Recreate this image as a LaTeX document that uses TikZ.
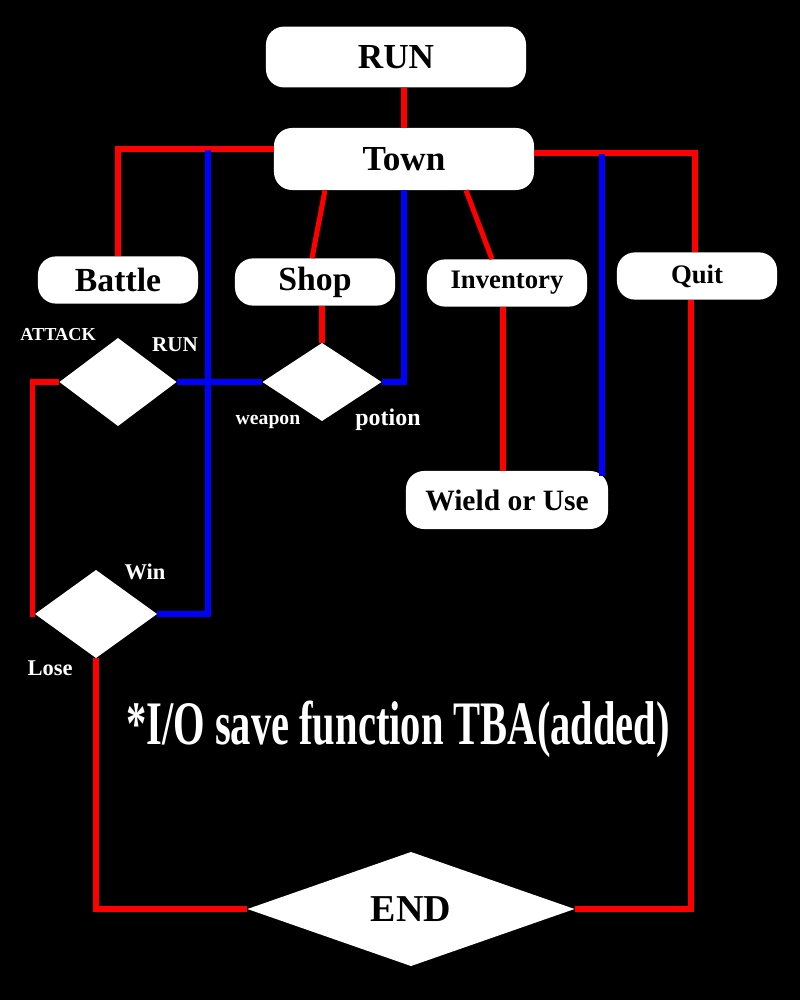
\documentclass[tikz,border=0pt]{standalone}
\usepackage{fontspec}
\setmainfont{Liberation Serif}
\newfontfamily\notefont[FakeStretch=0.655]{Liberation Serif}
\usetikzlibrary{shapes.geometric, calc}

\begin{document}
\begin{tikzpicture}[x=0.025cm, y=-0.025cm,
    box/.style={fill=white, rounded corners=0.45cm, inner sep=0pt, font=\bfseries},
    choice/.style={diamond, fill=white, inner sep=0pt, outer sep=0pt},
    redline/.style={red, line width=3.6pt},
    blueline/.style={blue, line width=3.6pt},
    lbl/.style={white, font=\bfseries}
  ]
  % background
  \fill[black] (0,0) rectangle (800,1000);

  % boxes
  \node[box, minimum width=6.5cm, minimum height=1.52cm, font=\bfseries\fontsize{25}{27}\selectfont] (run) at (396,57) {RUN};
  \node[box, minimum width=6.5cm, minimum height=1.55cm, font=\bfseries\fontsize{25}{27}\selectfont] (town) at (404,159) {Town};
  \node[box, minimum width=4cm, minimum height=1.18cm, font=\bfseries\fontsize{24}{26}\selectfont] (battle) at (118,280) {Battle};
  \node[box, minimum width=4cm, minimum height=1.18cm, font=\bfseries\fontsize{24}{26}\selectfont] (shop) at (315,282) {Shop};
  \node[box, minimum width=4cm, minimum height=1.18cm, font=\bfseries\fontsize{19}{21}\selectfont] (inv) at (507,283) {Inventory};
  \node[box, minimum width=4cm, minimum height=1.18cm, font=\bfseries\fontsize{19}{21}\selectfont] (quit) at (697,276) {Quit};
  \node[box, minimum width=5.05cm, minimum height=1.45cm, font=\bfseries\fontsize{21}{23}\selectfont] (wield) at (507,500) {Wield or Use};

  % decisions
  \node[choice, minimum width=2.925cm, minimum height=2.2cm] (fight) at (118,382) {};
  \node[choice, minimum width=2.975cm, minimum height=1.95cm] (buy) at (322,382) {};
  \node[choice, minimum width=3.05cm, minimum height=2.2cm] (outcome) at (96,614) {};
  \node[choice, minimum width=8.175cm, minimum height=2.85cm, font=\bfseries\fontsize{27}{29}\selectfont] (end) at (411,909) {END};

  % joints on the top lines
  \coordinate (bj) at (208,150);
  \coordinate (qj) at (602,154);

  % red connectors
  \draw[redline] (town.north |- run.south) -- (town.north);
  \draw[redline] ([yshift=0.25cm]town.west) -| (battle.north);
  \draw[redline] ($(town.south)+(-79,0)$) -- ($(shop.north)+(-3,0)$);
  \draw[redline] (buy.north |- shop.south) -- (buy.north);
  \draw[redline] ($(town.south)+(62,0)$) -- ($(inv.north)+(-15,0)$);
  \draw[redline] ($(inv.south)+(-4,0)$) -- ($(wield.north)+(-4,0)$);
  \draw[redline] ([yshift=0.15cm]town.east) -| ($(quit.north)+(-2,0)$);
  \draw[redline] ($(quit.south)+(-6,0)$) |- (end.east);
  \draw[redline] (fight.west) -- ++(-27,0) |- (outcome.west);
  \draw[redline] (outcome.south) |- (end.west);

  % blue connectors
  \draw[blueline] (bj) |- (outcome.east);
  \draw[blueline] (fight.east) -- (buy.west);
  \draw[blueline] (buy.east) -| (town.south);
  \draw[blueline] (qj) -- ($(qj |- wield.north)+(0,5)$);

  % labels
  \node[lbl, font=\bfseries\fontsize{13}{15}\selectfont] (lattack) at (58,335) {ATTACK};
  \node[lbl, font=\bfseries\fontsize{15}{17}\selectfont] (lrun) at (175,345) {RUN};
  \node[lbl, font=\bfseries\fontsize{14}{16}\selectfont] (lweapon) at (268,422) {weapon};
  \node[lbl, font=\bfseries\fontsize{17}{19}\selectfont] (lpotion) at (388,420) {potion};
  \node[lbl, font=\bfseries\fontsize{16}{18}\selectfont] (lwin) at (145,572) {Win};
  \node[lbl, font=\bfseries\fontsize{16}{18}\selectfont] (llose) at (50,668) {Lose};

  % note
  \node[lbl, font=\notefont\bfseries\fontsize{44}{48}\selectfont] (note) at (398,729) {*I/O save function TBA(added)};
\end{tikzpicture}
\end{document}
